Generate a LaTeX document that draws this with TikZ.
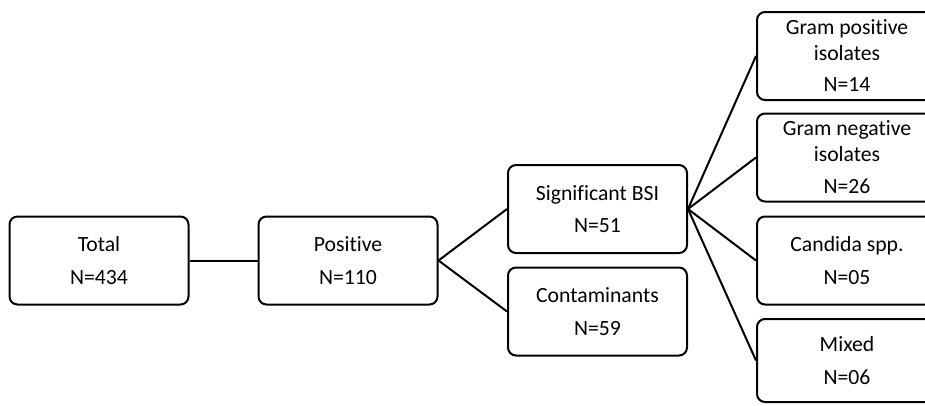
\documentclass[tikz,border=0pt]{standalone}
\usepackage{fontspec}
\setmainfont[Ligatures=NoCommon]{Carlito}
\begin{document}
\begin{tikzpicture}[x=1pt,y=-1pt]
\tikzset{
  box/.style={draw, line width=2pt, rounded corners=8pt, inner sep=0pt, align=center,
    font=\fontsize{21.7}{32.5}\selectfont, minimum height=88pt, minimum width=179pt},
  tribox/.style={box, font=\fontsize{21.7}{26}\selectfont, minimum width=180pt},
  conn/.style={line width=2pt}
}
\useasboundingbox (0,0) rectangle (925,405);
\clip (0,0) rectangle (925,405);
\node[box] (total) at (99,260.5) {Total\\N=434};
\node[box] (pos) at (348,260.5) {Positive\\N=110};
\node[box] (sig) at (597.5,209) {Significant BSI\\N=51};
\node[box] (cont) at (597.5,311.5) {Contaminants\\N=59};
\node[tribox] (gp) at (847,56) {Gram positive\\isolates\\[5pt]N=14};
\node[tribox] (gn) at (847,157.5) {Gram negative\\isolates\\[6pt]N=26};
\node[box, minimum width=180pt] (cand) at (847,260.5) {Candida spp.\\N=05};
\node[box, minimum width=180pt, minimum height=83pt] (mix) at (847,360.5) {Mixed\\N=06};
\draw[conn] (total.east) -- (pos.west);
\draw[conn] (pos.east) -- (sig.west);
\draw[conn] (pos.east) -- (cont.west);
\draw[conn] (sig.east) -- (gp.west);
\draw[conn] (sig.east) -- (gn.west);
\draw[conn] (sig.east) -- (cand.west);
\draw[conn] (sig.east) -- (mix.west);
\end{tikzpicture}
\end{document}
